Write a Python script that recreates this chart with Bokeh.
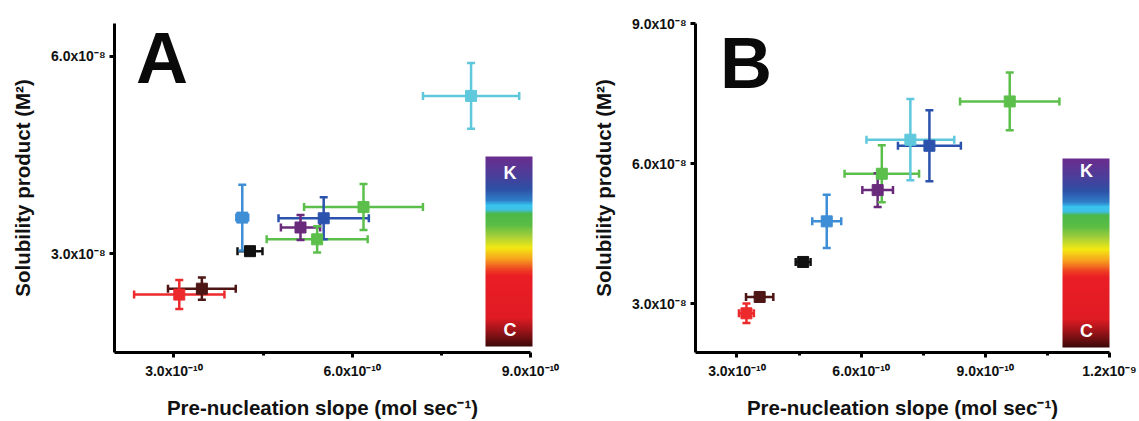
from bokeh.plotting import figure
from bokeh.models import (Whisker, TeeHead, ColumnDataSource, FixedTicker, Range1d,
                          ColorBar, LinearColorMapper, Label)
from bokeh.layouts import row
from bokeh.core.properties import field
from bokeh.embed import file_html
from bokeh.resources import INLINE

# ---------------- data ----------------
samples = ["C1", "C2", "C3", "C4", "C5", "C6", "C7", "C8", "K"]

# Panel A
slope_a = [3.09e-10, 3.47e-10, 4.28e-10, 4.15e-10, 5.13e-10, 5.41e-10, 5.52e-10, 6.19e-10, 8.00e-10]
slope_err_a = [0.76e-10, 0.57e-10, 0.21e-10, 0.10e-10, 0.33e-10, 0.85e-10, 0.76e-10, 1.00e-10, 0.81e-10]
ksp_a = [2.38e-8, 2.47e-8, 3.04e-8, 3.55e-8, 3.40e-8, 3.22e-8, 3.54e-8, 3.71e-8, 5.40e-8]
ksp_err_a = [0.22e-8, 0.17e-8, 0.04e-8, 0.50e-8, 0.19e-8, 0.20e-8, 0.32e-8, 0.35e-8, 0.50e-8]

# Panel B
slope_b = [3.23e-10, 3.55e-10, 4.60e-10, 5.17e-10, 6.40e-10, 6.50e-10, 7.19e-10, 7.65e-10, 9.59e-10]
slope_err_b = [0.18e-10, 0.33e-10, 0.18e-10, 0.35e-10, 0.37e-10, 0.90e-10, 1.06e-10, 0.76e-10, 1.20e-10]
ksp_b = [2.79e-8, 3.14e-8, 3.89e-8, 4.76e-8, 5.43e-8, 5.78e-8, 6.51e-8, 6.38e-8, 7.33e-8]
ksp_err_b = [0.21e-8, 0.08e-8, 0.05e-8, 0.57e-8, 0.36e-8, 0.61e-8, 0.87e-8, 0.76e-8, 0.62e-8]

# tick labels
xticks_a = [3e-10, 6e-10, 9e-10]
xlabels_a = ["3.0x10\u207b\u00b9\u2070", "6.0x10\u207b\u00b9\u2070", "9.0x10\u207b\u00b9\u2070"]
xminor_a = [4.5e-10, 7.5e-10]
yticks_a = [3e-8, 6e-8]
ylabels_a = ["3.0x10\u207b\u2078", "6.0x10\u207b\u2078"]

xticks_b = [3e-10, 6e-10, 9e-10, 1.2e-9]
xlabels_b = ["3.0x10\u207b\u00b9\u2070", "6.0x10\u207b\u00b9\u2070", "9.0x10\u207b\u00b9\u2070", "1.2x10\u207b\u2079"]
xminor_b = [4.5e-10, 7.5e-10, 1.05e-9]
yticks_b = [3e-8, 6e-8, 9e-8]
ylabels_b = ["3.0x10\u207b\u2078", "6.0x10\u207b\u2078", "9.0x10\u207b\u2078"]

# styles
RED, BROWN, BLACK, SKY, PURPLE, GREEN, BLUE, CYAN = (
    "#ec2a2c", "#4e1515", "#111111", "#3e8ed6", "#6a2a7c", "#5cbf4b", "#2b53ad", "#5fc8dc")
colors_a = [RED, BROWN, BLACK, SKY, PURPLE, GREEN, BLUE, GREEN, CYAN]
colors_b = [RED, BROWN, BLACK, SKY, PURPLE, GREEN, CYAN, BLUE, GREEN]

FONT = "Liberation Sans"

# colour-bar gradient (bottom -> top)
stops = [(0.00, "#3d0a0a"), (0.08, "#9a1419"), (0.15, "#e01b24"), (0.37, "#ea1d25"),
         (0.40, "#ee3a23"), (0.46, "#f6a21e"), (0.52, "#f3e912"), (0.58, "#a5cf3a"),
         (0.64, "#5bbd45"), (0.70, "#4cb848"), (0.72, "#3ec0e6"), (0.745, "#38c6f0"),
         (0.77, "#2f7ec8"), (0.83, "#2d50a5"), (0.90, "#4a3f9a"), (1.00, "#6b2d8e")]


def hex2rgb(h):
    return tuple(int(h[i:i + 2], 16) for i in (1, 3, 5))


def build_palette(n=256):
    pal = []
    for i in range(n):
        u = i / (n - 1)
        for (u0, c0), (u1, c1) in zip(stops[:-1], stops[1:]):
            if u0 <= u <= u1:
                f = 0 if u1 == u0 else (u - u0) / (u1 - u0)
                a, b = hex2rgb(c0), hex2rgb(c1)
                rgb = [round(a[k] + (b[k] - a[k]) * f) for k in range(3)]
                pal.append("#%02x%02x%02x" % tuple(rgb))
                break
    return pal


PALETTE = build_palette()


def panel(xs, xerr, ys, yerr, colors, xr, yr, xt, xl, xm, yt, yl, width, left, right,
          letter, letter_xy, cb_xy, cb_w, cb_h, k_xy, c_xy):
    p = figure(width=width, height=421, output_backend="svg", toolbar_location=None,
               x_range=Range1d(*xr), y_range=Range1d(*yr),
               min_border_left=left, min_border_right=right,
               min_border_top=23, min_border_bottom=66)
    p.outline_line_color = None
    p.xgrid.visible = False
    p.ygrid.visible = False
    p.background_fill_color = "white"
    p.border_fill_color = "white"

    src = ColumnDataSource(dict(
        x=xs, y=ys,
        xl=[a - b for a, b in zip(xs, xerr)], xu=[a + b for a, b in zip(xs, xerr)],
        yl=[a - b for a, b in zip(ys, yerr)], yu=[a + b for a, b in zip(ys, yerr)],
        color=colors))

    def head():
        return TeeHead(size=8, line_color=field("color"), line_width=2.5)

    wx = Whisker(base="y", lower="xl", upper="xu", dimension="width", source=src,
                 line_color=field("color"), line_width=2.5,
                 lower_head=head(), upper_head=head())
    wy = Whisker(base="x", lower="yl", upper="yu", dimension="height", source=src,
                 line_color=field("color"), line_width=2.5,
                 lower_head=head(), upper_head=head())
    p.add_layout(wx)
    p.add_layout(wy)
    p.scatter("x", "y", source=src, marker="square", size=11,
              fill_color="color", line_color="color")

    for ax in (p.xaxis[0], p.yaxis[0]):
        ax.axis_line_width = 3
        ax.axis_line_color = "black"
        ax.major_tick_line_width = 3
        ax.major_tick_out = 5
        ax.major_tick_in = 0
        ax.minor_tick_line_width = 3
        ax.minor_tick_out = 3
        ax.minor_tick_in = 0
        ax.major_label_text_font = FONT
        ax.major_label_text_font_style = "bold"
        ax.major_label_text_font_size = "14px"
        ax.major_label_text_color = "#111111"
        ax.axis_label_text_font = FONT
        ax.axis_label_text_font_style = "bold"
        ax.axis_label_text_font_size = "20.5px"
        ax.axis_label_text_color = "#111111"

    p.xaxis.ticker = FixedTicker(ticks=xt, minor_ticks=xm)
    p.xaxis.major_label_overrides = dict(zip(xt, xl))
    p.xaxis.major_label_standoff = 5
    p.xaxis.axis_label = "Pre-nucleation slope (mol sec\u207b\u00b9)"
    p.xaxis.axis_label_standoff = 14

    p.yaxis.ticker = FixedTicker(ticks=yt)
    p.yaxis.major_label_overrides = dict(zip(yt, yl))
    p.yaxis.major_label_standoff = 4
    p.yaxis.minor_tick_line_color = None
    p.yaxis.axis_label = "Solubility product (M\u00b2)"
    p.yaxis.axis_label_standoff = 14

    cb = ColorBar(color_mapper=LinearColorMapper(palette=PALETTE, low=0, high=1),
                  location=cb_xy, width=cb_w, height=cb_h, padding=0, margin=0,
                  ticker=FixedTicker(ticks=[]), major_tick_line_color=None,
                  minor_tick_line_color=None, bar_line_color=None,
                  border_line_color=None, background_fill_alpha=0, label_standoff=0,
                  major_label_text_font_size="0px")
    p.add_layout(cb, "center")

    p.add_layout(Label(x=letter_xy[0], y=letter_xy[1], x_units="screen", y_units="screen",
                       text=letter, text_font=FONT, text_font_style="bold",
                       text_font_size="72px", text_color="#0a0a0a",
                       text_align="left", text_baseline="middle"))
    for t, (lx, ly) in (("K", k_xy), ("C", c_xy)):
        p.add_layout(Label(x=lx, y=ly, x_units="screen", y_units="screen", text=t,
                           text_font=FONT, text_font_style="bold", text_font_size="18px",
                           text_color="white", text_align="center",
                           text_baseline="middle"))
    return p


pA = panel(slope_a, slope_err_a, ksp_a, ksp_err_a, colors_a,
           (2e-10, 9e-10), (1.5e-8, 6.5e-8),
           xticks_a, xlabels_a, xminor_a, yticks_a, ylabels_a,
           width=568, left=114, right=38, letter="A", letter_xy=(21.5, 294.5),
           cb_xy=(371, 6), cb_w=47, cb_h=190, k_xy=(395.5, 180), c_xy=(395.5, 23))

pB = panel(slope_b, slope_err_b, ksp_b, ksp_err_b, colors_b,
           (2e-10, 1.2e-9), (1.95e-8, 9e-8),
           xticks_b, xlabels_b, xminor_b, yticks_b, ylabels_b,
           width=571, left=127, right=30, letter="B", letter_xy=(24.5, 289.6),
           cb_xy=(367, 5), cb_w=47, cb_h=189, k_xy=(391, 181.7), c_xy=(391, 22))

layout = row(pA, pB)
open("out.html", "w").write(file_html(layout, INLINE))
